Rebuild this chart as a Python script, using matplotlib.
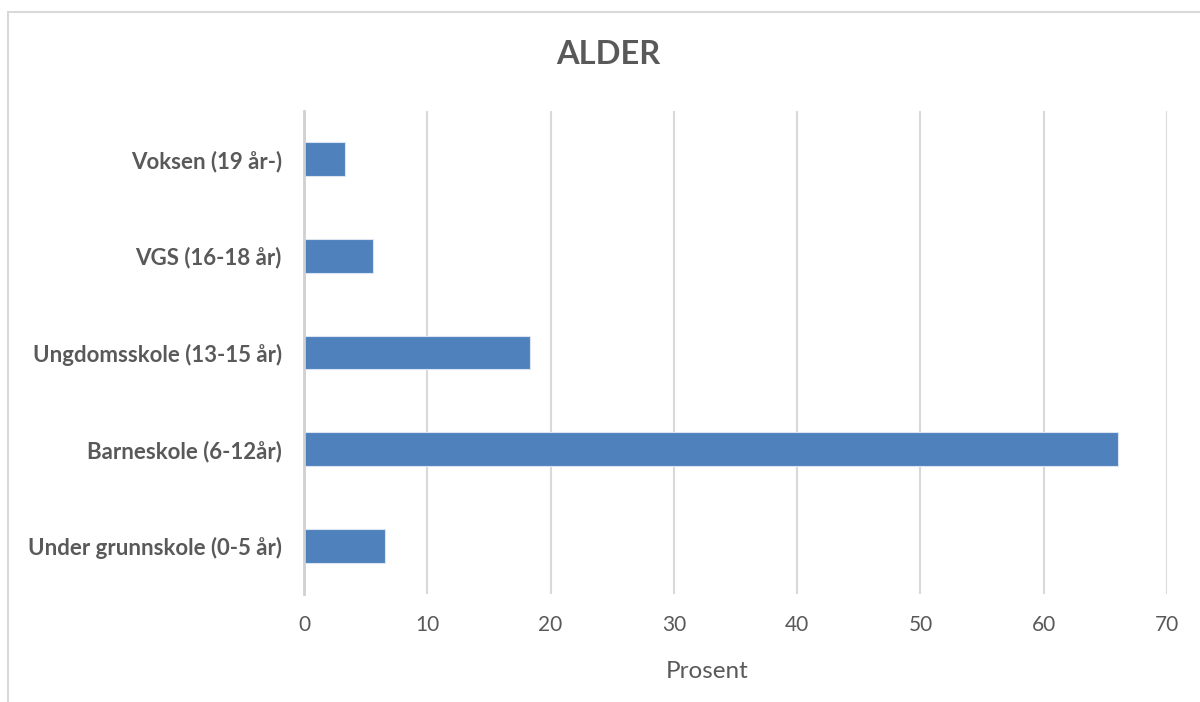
import matplotlib
matplotlib.use("Agg")
import matplotlib.pyplot as plt
from matplotlib.patches import Rectangle

categories = ["Under grunnskole (0-5 år)", "Barneskole (6-12år)", "Ungdomsskole (13-15 år)",
              "VGS (16-18 år)", "Voksen (19 år-)"]
values = [6.6, 66.0, 18.3, 5.6, 3.3]
xticks = [0, 10, 20, 30, 40, 50, 60, 70]

plt.rcParams['font.family'] = ['Lato', 'DejaVu Sans']
text_color = '#595959'

fig = plt.figure(figsize=(12, 7.02), dpi=100)
fig.patches.append(Rectangle((8/1200, -0.1), 1.2, 1 - 12/702 + 0.1, transform=fig.transFigure,
                             fill=False, edgecolor='#d9d9d9', linewidth=1.5))
ax = fig.add_axes([304/1200, 1 - 594/702, 863/1200, 483/702])

ax.barh(range(len(categories)), values, height=0.35, color='#4f81bd',
        edgecolor='#dbe5f1', linewidth=0.8, zorder=3)
ax.set_xlim(0, 70)
ax.set_ylim(-0.5, len(categories) - 0.5)
ax.set_xticks(xticks)
ax.set_xticklabels([str(t) for t in xticks], fontsize=15, color=text_color)
ax.set_yticks(range(len(categories)))
ax.set_yticklabels(categories, fontsize=16, fontweight='bold', color=text_color)
ax.tick_params(axis='both', length=0)
ax.tick_params(axis='x', pad=15)
ax.tick_params(axis='y', pad=16)
ax.grid(axis='x', color='#d9d9d9', linewidth=1.5, zorder=0)
for s in ['top', 'right', 'bottom']:
    ax.spines[s].set_visible(False)
ax.spines['left'].set_color('#d0d0d0')
ax.spines['left'].set_linewidth(2)
ax.spines['left'].set_zorder(4)
fig.text(707/1200, 1 - 672/702, "Prosent", fontsize=17.5, color=text_color,
         ha='center', va='center')
fig.text(608/1200, 1 - 55/702, "ALDER", fontsize=23.5, fontweight='bold', color=text_color,
         ha='center', va='center')

fig.savefig("out.png", dpi=100)
